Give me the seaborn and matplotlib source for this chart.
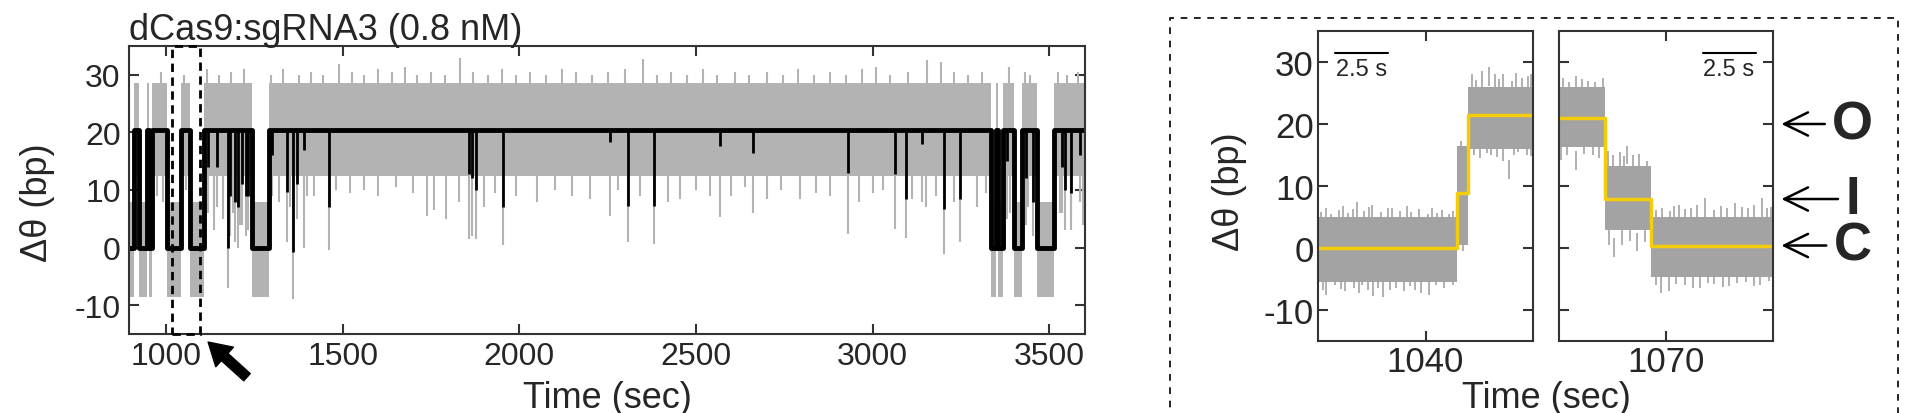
import matplotlib
matplotlib.use("Agg")
import matplotlib.pyplot as plt
from matplotlib.patches import Rectangle
import seaborn as sns

# ---- main trace: dwell segments ----
seg_start = [895, 910, 924, 947, 953, 960, 1002, 1041.5, 1068, 1106, 1244, 1290,
             3335, 3348, 3356, 3370, 3401, 3422, 3466, 3513]
seg_state = [0, 1, 0, 1, 0, 1, 0, 1, 0, 1, 0, 1, 0, 1, 0, 1, 0, 1, 0, 1]
t_end = 3606
levels = [0.0, 20.5]
band_top = [8.0, 28.5]
band_bot = [-8.5, 12.5]

# brief dips out of the open state (time, black minimum, gray minimum)
dip_t = [1120, 1143.5, 1174.5, 1181, 1195, 1204.6, 1214, 1226, 1233,
         1299, 1341.5, 1360, 1370, 1390.5, 1462,
         1856, 1865, 1877, 1955,
         2256.5, 2308.5, 2381, 2568, 2662, 2931, 3063, 3094, 3139, 3202, 3247,
         3380, 3435, 3455, 3535, 3543, 3562, 3587]
dip_black = [14, 14, 0, 9, 8, 7, 11, 9, 9,
             16, 9.6, -0.8, 11, 17, 7,
             12.8, 12, 10, 7,
             18.3, 7.3, 7.3, 17.7, 16.5, 13, 12.8, 8.4, 18, 6.7, 8.4,
             15, 12, 8, 14, 10, 9.5, 16]
dip_gray = [6, 7, -7, 2, 1, 0, 4, 2, 3,
            9, 1, -9, 5, 0, -0.5,
            1.5, 2, 1.5, 0.5,
            5.5, 0.9, 0.6, 5.3, 6, 2.3, 3.2, 1.7, 8, -1.1, 0.9,
            5, 4, 2, 6, 3, 3, 8]

# gray-only spikes on the open state
gray_down_t = [975, 990, 1055, 1135, 1160, 1190, 1210, 1320, 1350, 1400, 1420, 1480,
               1520, 1560, 1600, 1650, 1700, 1738, 1757, 1791.5, 1830, 1900, 1930, 1990,
               2050, 2100, 2150, 2200, 2280, 2340, 2420, 2455, 2500, 2540, 2600, 2640,
               2700, 2740, 2794, 2840, 2880, 2960, 3000, 3030, 3110, 3150, 3180, 3230,
               3294, 3320, 3390, 3440, 3530, 3560, 3595]
gray_down_v = [9, 8, 10, 3, 5, 6, 4, 8, 7, 9, 9, 10,
               9.5, 10, 9, 10.5, 9.5, 5.5, 6.5, 5, 8, 7, 9.5, 9,
               8, 10, 9, 8.5, 10, 9, 8, 8.4, 10, 9, 9, 10.5,
               8.5, 10, 8.4, 9.5, 9, 8, 9.5, 10, 8.5, 7, 9, 8,
               7, 9.5, 6, 7, 6, 5, 4]
gray_up_t = [985, 1050, 1115, 1150, 1185, 1220, 1298, 1330, 1375, 1410, 1445, 1490,
             1525, 1560, 1600, 1640, 1676, 1710, 1750, 1790, 1832, 1870, 1910, 1950,
             1990, 2030, 2075, 2120, 2160, 2205, 2250, 2300, 2349, 2390, 2430, 2475,
             2520, 2560, 2610, 2650, 2700, 2745, 2790, 2835, 2880, 2925, 2970, 3009,
             3050, 3100, 3153, 3192, 3230, 3270, 3310, 3387, 3430, 3445, 3525, 3550, 3580]
gray_up_v = [30.5, 30, 31, 30, 30.5, 31, 30, 31, 30, 30.5, 30, 31.9,
             30.5, 30, 31, 30.5, 31.3, 30, 30.5, 30, 33, 30.5, 30, 31,
             30, 30.5, 30, 31, 30.5, 30, 30.5, 31, 32.8, 30, 30.5, 30,
             31, 30, 30.5, 30, 30.5, 30, 31, 30, 30.5, 30, 31, 31.3,
             30, 30.5, 32.5, 32.2, 30.5, 30, 30.5, 31.3, 30.5, 30, 30.5, 30, 30.5]

# ---- zoomed panels ----
ins1_t = [1034.9, 1041.5, 1042.0, 1045.2]
ins1_level = [0.0, 8.9, 21.5]
ins1_top = [5.0, 16.5, 26.0]
ins1_bot = [-5.5, 0.5, 16.0]
ins1_up_t = [1035.05, 1035.3, 1035.5, 1035.9, 1036.1, 1036.3, 1036.55, 1036.76, 1037.1, 1037.3,
             1037.47, 1037.9, 1038.2, 1038.4, 1038.8, 1039.1, 1039.3, 1039.7, 1040.1, 1040.3,
             1040.55, 1040.8, 1041.1, 1041.3, 1041.7, 1042.2, 1042.4, 1042.7, 1043.0, 1043.3,
             1043.5, 1043.7, 1044.1, 1044.3, 1044.6, 1044.85, 1045.0]
ins1_up_v = [5.8, 6.4, 5.5, 6.2, 6.8, 5.6, 6.3, 7.5, 6.0, 6.6,
             6.9, 5.8, 6.4, 6.5, 6.0, 6.7, 5.8, 6.3, 5.5, 6.4,
             5.6, 6.2, 5.5, 6.0, 17.2, 28.0, 27.1, 28.5, 29.2, 28.0,
             27.3, 28.0, 27.0, 28.3, 27.4, 27.8, 28.0]
ins1_dn_t = [1035.15, 1035.3, 1035.7, 1036.0, 1036.2, 1036.6, 1036.85, 1037.0, 1037.25, 1037.5,
             1037.75, 1038.0, 1038.3, 1038.6, 1039.0, 1039.25, 1039.5, 1039.8, 1040.16, 1040.5,
             1040.9, 1041.3, 1041.8, 1042.3, 1042.6, 1042.9, 1043.1, 1043.4, 1043.7, 1043.95,
             1044.2, 1044.4, 1044.8, 1045.0]
ins1_dn_v = [-6.8, -7.5, -6.0, -6.6, -7.0, -6.5, -7.2, -6.0, -6.8, -7.8,
             -6.4, -7.9, -6.8, -6.5, -7.0, -6.2, -6.8, -7.3, -7.5, -6.0,
             -6.5, -6.0, -0.5, 15.0, 14.5, 15.3, 15.0, 14.7, 14.0, 11.2,
             15.0, 15.5, 15.0, 14.8]

ins2_t = [1064.8, 1067.1, 1069.3, 1075.2]
ins2_level = [20.9, 7.9, 0.4]
ins2_top = [26.0, 13.2, 5.0]
ins2_bot = [16.3, 2.9, -4.6]
ins2_up_t = [1065.1, 1065.4, 1065.7, 1066.0, 1066.3, 1066.6, 1066.98, 1067.25, 1067.45, 1067.8,
             1068.0, 1068.16, 1068.45, 1068.7, 1069.1, 1069.5, 1069.8, 1070.2, 1070.4, 1070.6,
             1070.9, 1071.2, 1071.5, 1071.88, 1072.3, 1072.6, 1072.9, 1073.3, 1073.6, 1073.9,
             1074.2, 1074.57, 1074.8, 1075.0]
ins2_up_v = [27.5, 26.8, 27.8, 27.2, 27.0, 26.8, 27.4, 15.6, 15.0, 15.5,
             14.8, 16.5, 15.0, 15.2, 14.0, 6.2, 6.5, 6.0, 6.8, 7.0,
             6.3, 6.4, 6.9, 8.0, 6.2, 6.8, 6.4, 7.2, 6.6, 6.5,
             6.9, 8.0, 6.4, 6.6]
ins2_dn_t = [1065.0, 1065.3, 1065.72, 1066.1, 1066.5, 1066.8, 1067.3, 1067.5, 1067.9, 1068.3,
             1068.6, 1069.0, 1069.5, 1069.75, 1070.14, 1070.5, 1070.9, 1071.3, 1071.6, 1072.0,
             1072.3, 1072.7, 1073.0, 1073.4, 1073.8, 1074.2, 1074.5, 1074.9]
ins2_dn_v = [14.2, 15.0, 12.6, 15.2, 15.0, 14.5, 0.5, -1.4, 0.5, 1.2,
             -0.5, 1.0, -6.0, -7.3, -7.0, -5.8, -6.0, -6.4, -6.5, -5.6,
             -5.8, -6.3, -6.2, -5.7, -5.5, -6.1, -6.0, -5.4]

state_names = ["O", "I", "C"]
state_y = [20, 7.9, 0.4]

sns.set_theme(style="ticks")
plt.rcParams["font.family"] = ["Liberation Sans", "DejaVu Sans"]
plt.rcParams["axes.unicode_minus"] = False

GRAY = "#b3b3b3"
GRAY2 = "#a3a3a3"
YELLOW = "#f5cc0a"

fig = plt.figure(figsize=(19.2, 4.14), dpi=100)
ax = fig.add_axes([129 / 1920, 79 / 414, 956 / 1920, 288 / 414])
ax1 = fig.add_axes([1318 / 1920, 72 / 414, 215 / 1920, 310 / 414])
ax2 = fig.add_axes([1559 / 1920, 72 / 414, 214 / 1920, 310 / 414])


def style(a, size, xpad, ypad):
    a.tick_params(direction="in", top=True, right=True, length=7, width=1.5,
                  labelsize=size, color="#333333")
    a.tick_params(axis="x", pad=xpad)
    a.tick_params(axis="y", pad=ypad)
    for s in a.spines.values():
        s.set_linewidth(1.5)
        s.set_color("#333333")


# main panel
xs = seg_start + [t_end]
lv = [levels[s] for s in seg_state]
tops = [band_top[s] for s in seg_state]
bots = [band_bot[s] for s in seg_state]
ax.fill_between(xs, tops + [tops[-1]], bots + [bots[-1]], step="post", color=GRAY, lw=0)
ax.vlines(gray_down_t, gray_down_v, band_bot[1] + 1, color=GRAY, lw=1.5)
ax.vlines(gray_up_t, band_top[1] - 1, gray_up_v, color=GRAY, lw=1.5)
ax.vlines(dip_t, dip_gray, band_bot[1] + 1, color=GRAY, lw=1.5)
sns.lineplot(x=xs, y=lv + [lv[-1]], drawstyle="steps-post", color="black", lw=3.5,
             estimator=None, sort=False, ax=ax)
ax.vlines(dip_t, dip_black, levels[1], color="black", lw=2)
ax.set_xlim(895, 3601)
ax.set_ylim(-15, 35)
ax.set_xticks([1000, 1500, 2000, 2500, 3000, 3500])
ax.set_yticks([-10, 0, 10, 20, 30])
style(ax, 23, 5, 6)
ax.set_title("dCas9:sgRNA3 (0.8 nM)", loc="left", fontsize=26, pad=5)
ax.set_xlabel("Time (sec)", fontsize=26, va="top")
ax.xaxis.set_label_coords(0.5, -0.16)
ax.set_ylabel("Δθ (bp)", fontsize=26)
ax.yaxis.set_label_coords(-0.077, 0.458)
ax.add_patch(Rectangle((1016, -15), 80, 50, fill=False, ec="black", lw=2,
                       ls=(0, (3, 2)), clip_on=False, zorder=5))
ax.annotate("", xy=(1119, -16.4), xytext=(1229, -22.5), annotation_clip=False,
            arrowprops=dict(arrowstyle="simple,head_length=0.8,head_width=0.95,tail_width=0.35",
                            color="black", mutation_scale=20, shrinkA=0, shrinkB=0))


def zoom_panel(a, t, level, top, bot, up_t, up_v, dn_t, dn_v):
    a.fill_between(t, top + [top[-1]], bot + [bot[-1]], step="post", color=GRAY2, lw=0)
    a.vlines(up_t, [v - 3 for v in up_v], up_v, color=GRAY2, lw=1.2)
    a.vlines(dn_t, dn_v, [v + 3 for v in dn_v], color=GRAY2, lw=1.2)
    sns.lineplot(x=t, y=level + [level[-1]], drawstyle="steps-post", color=YELLOW,
                 lw=2.5, estimator=None, sort=False, ax=a)
    a.set_ylim(-15, 35)
    a.set_yticks([-10, 0, 10, 20, 30])
    style(a, 25, 3, 3)
    a.set_xlabel("")
    a.set_ylabel("")


zoom_panel(ax1, ins1_t, ins1_level, ins1_top, ins1_bot, ins1_up_t, ins1_up_v, ins1_dn_t, ins1_dn_v)
ax1.set_xlim(1034.9, 1045.1)
ax1.set_xticks([1040])
ax1.set_ylabel("Δθ (bp)", fontsize=26)
ax1.yaxis.set_label_coords(-0.33, 0.484)
ax1.plot([1035.7, 1038.2], [31.4, 31.4], color="black", lw=1.5)
ax1.text(1036.95, 30.6, "2.5 s", ha="center", va="top", fontsize=17)

zoom_panel(ax2, ins2_t, ins2_level, ins2_top, ins2_bot, ins2_up_t, ins2_up_v, ins2_dn_t, ins2_dn_v)
ax2.set_xlim(1064.9, 1075.1)
ax2.set_xticks([1070])
ax2.tick_params(labelleft=False)
ax2.plot([1071.76, 1074.28], [31.4, 31.4], color="black", lw=1.5)
ax2.text(1073.0, 30.6, "2.5 s", ha="center", va="top", fontsize=17)

for name, y in zip(state_names, state_y):
    ax2.annotate(name, xy=(1075.5, y), xytext=(1078.9, y), ha="center", va="center",
                 fontsize=38, fontweight="bold", annotation_clip=False,
                 arrowprops=dict(arrowstyle="->,head_length=0.45,head_width=0.22",
                                 lw=1.8, color="black", shrinkA=3, shrinkB=0))

fig.text(1546 / 1920, 1 - 381 / 414, "Time (sec)", ha="center", va="top", fontsize=26)
fig.add_artist(Rectangle((1170 / 1920, -0.05), 728 / 1920, 1 - 19 / 414 + 0.05,
                         transform=fig.transFigure, fill=False, ec="black", lw=1.2,
                         ls=(0, (4, 4))))

fig.savefig("out.png", dpi=100)
